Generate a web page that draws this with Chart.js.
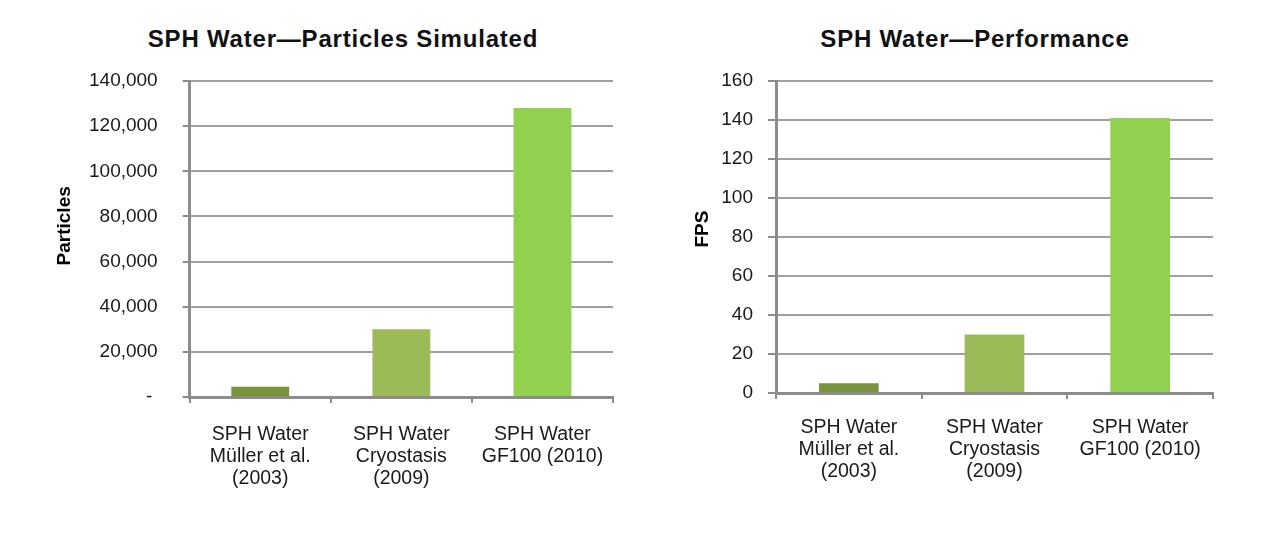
<!DOCTYPE html>
<html>
<head>
<meta charset="utf-8">
<script src="https://cdn.jsdelivr.net/npm/chart.js@4.4.1/dist/chart.umd.min.js"></script>
<style>
  body {
    margin: 0;
    width: 1280px;
    height: 536px;
    background: #fff;
    position: relative;
    overflow: hidden;
    font-family: "Liberation Sans", Arial, sans-serif;
  }
  .title {
    position: absolute;
    top: 27px;
    font-weight: bold;
    font-size: 24px;
    line-height: 24px;
    color: #111;
    letter-spacing: 0.8px;
    white-space: nowrap;
    transform: translateX(-50%);
  }
  canvas { position: absolute; top: 0; }
</style>
</head>
<body>
<div class="title" style="left:343px">SPH Water—Particles Simulated</div>
<div class="title" style="left:975px">SPH Water—Performance</div>
<canvas id="particlesChart" width="640" height="536" style="left:0"></canvas>
<canvas id="fpsChart" width="640" height="536" style="left:640px"></canvas>
<script>
  const categories = [
    ["SPH Water", "Müller et al.", "(2003)"],
    ["SPH Water", "Cryostasis", "(2009)"],
    ["SPH Water", "GF100 (2010)"]
  ];
  const particles = [4600, 30000, 128000];
  const fps = [5, 30, 141];
  const barColors = ["#77933C", "#9BBB59", "#92D050"];

  const FONT = "'Liberation Sans', Arial, sans-serif";
  const TEXT = "#1a1a1a";

  function makeChart(canvasId, values, cfg) {
    return new Chart(document.getElementById(canvasId), {
      type: "bar",
      data: {
        labels: categories,
        datasets: [{
          data: values,
          backgroundColor: barColors,
          borderWidth: 0,
          barPercentage: 0.41,
          categoryPercentage: 1
        }]
      },
      options: {
        responsive: false,
        animation: false,
        layout: { padding: cfg.padding },
        plugins: {
          legend: { display: false },
          tooltip: { enabled: false }
        },
        scales: {
          x: {
            grid: {
              offset: true,
              drawOnChartArea: false,
              tickLength: 6,
              color: "#8c8c8c",
              lineWidth: 2
            },
            border: { color: "#8c8c8c", width: 3 },
            ticks: {
              padding: cfg.xPad,
              maxRotation: 0,
              autoSkip: false,
              color: TEXT,
              font: { family: FONT, size: 19.5, lineHeight: 1.11 }
            }
          },
          y: {
            min: 0,
            max: cfg.max,
            grid: {
              color: "#a0a0a0",
              lineWidth: 2,
              tickLength: cfg.yTick,
              tickColor: "#8c8c8c"
            },
            border: { color: "#8c8c8c", width: 3 },
            ticks: {
              stepSize: cfg.step,
              padding: cfg.yPad,
              color: TEXT,
              font: { family: FONT, size: 19 },
              callback: cfg.format
            },
            title: {
              display: true,
              text: cfg.yTitle,
              color: "#000",
              font: { family: FONT, size: 19, weight: "bold" },
              // chart.js reserves tick padding twice, so pull the title back in
              padding: { top: 0, bottom: cfg.titleGap }
            }
          }
        }
      }
    });
  }

  // left: particle counts, zero shown as a dash like the accounting format
  makeChart("particlesChart", particles, {
    padding: { left: 53.6, right: 27, top: 81, bottom: 26 },
    max: 140000,
    step: 20000,
    yTick: 7,
    yPad: 25,
    xPad: 21,
    titleGap: -12.4,
    yTitle: "     Particles",
    format: v => v === 0 ? "- " : v.toLocaleString("en-US")
  });

  // right: frames per second
  makeChart("fpsChart", fps, {
    padding: { left: 51.6, right: 67, top: 81, bottom: 36 },
    max: 160,
    step: 20,
    yTick: 8,
    yPad: 15,
    xPad: 18,
    titleGap: -8.1,
    yTitle: "   FPS",
    format: v => v
  });
</script>
</body>
</html>
